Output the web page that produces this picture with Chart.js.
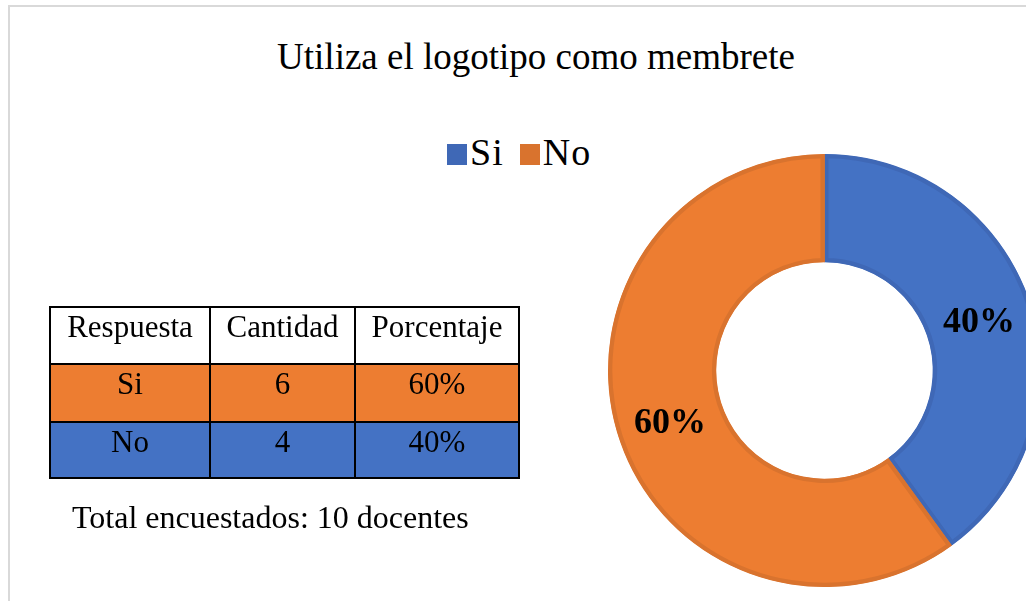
<!DOCTYPE html>
<html>
<head>
<meta charset="utf-8">
<script src="https://cdn.jsdelivr.net/npm/chart.js@4.4.1/dist/chart.umd.min.js"></script>
<style>
  html, body { margin: 0; padding: 0; background: #fff; }
  body { width: 1026px; height: 601px; overflow: hidden; position: relative;
         font-family: "Liberation Serif", "Times New Roman", serif; color: #000; }
  .marco { position: absolute; left: 8px; top: 5px; width: 1100px; height: 700px;
           border: 2px solid #d9d9d9; }
  .titulo { position: absolute; left: 536px; top: 38px; transform: translateX(-50%);
            font-size: 37px; line-height: 1; white-space: nowrap; }
  .leyenda { position: absolute; left: 447px; top: 133px; font-size: 38px; line-height: 1;
             white-space: nowrap; display: flex; align-items: baseline; }
  .leyenda span.caja { display: inline-block; width: 20px; height: 21px; margin-right: 3px; }
  .leyenda span.txt { margin-right: 16px; letter-spacing: 1px; }
  .lienzo { position: absolute; left: 0; top: 0; width: 1026px; height: 601px; overflow: hidden; }
  table { position: absolute; left: 49px; top: 306px; border-collapse: collapse; font-size: 31px; }
  td { border: 2px solid #000; text-align: center; vertical-align: top; line-height: 1;
       padding: 3px 0 0 0; }
  .total { position: absolute; left: 72px; top: 501px; font-size: 32px; line-height: 1; white-space: nowrap; }
</style>
</head>
<body>
<div class="marco"></div>
<div class="titulo">Utiliza el logotipo como membrete</div>
<div class="leyenda" id="leyenda"></div>
<div class="lienzo"><canvas id="grafico" width="1042" height="601"></canvas></div>
<table id="tabla"></table>
<div class="total" id="total"></div>
<script>
// datos del grafico
const categorias = ['Si', 'No'];
const porcentajes = [40, 60];
const colores = ['#4472C4', '#ED7D31'];
const bordes = ['#3F68B6', '#D9732E'];

// datos de la tabla
const encabezados = ['Respuesta', 'Cantidad', 'Porcentaje'];
const respuestas = ['Si', 'No'];
const cantidades = [6, 4];
const porcentajesTabla = ['60%', '40%'];
const coloresFilas = ['#ED7D31', '#4472C4'];
const totalEncuestados = 10;

// etiquetas de porcentaje sobre cada segmento
const etiquetasArco = {
    id: 'etiquetasArco',
    afterDatasetsDraw(chart) {
        const ctx = chart.ctx;
        const meta = chart.getDatasetMeta(0);
        ctx.save();
        ctx.font = 'bold 36px "Liberation Serif"';
        ctx.fillStyle = '#000';
        ctx.textAlign = 'center';
        ctx.textBaseline = 'alphabetic';
        meta.data.forEach((arc, i) => {
            const pos = arc.tooltipPosition();
            ctx.fillText(porcentajes[i] + '%', pos.x, pos.y + 12);
        });
        ctx.restore();
    }
};

const ctx = document.getElementById('grafico').getContext('2d');
new Chart(ctx, {
    type: 'doughnut',
    data: {
        labels: categorias,
        datasets: [{
            data: porcentajes,
            backgroundColor: colores,
            borderColor: bordes,
            borderWidth: 4,
            borderAlign: 'inner',
            hoverOffset: 0,
        }],
    },
    options: {
        responsive: false,
        animation: false,
        events: [],
        cutout: '50%',
        layout: {
            padding: { left: 608, right: 1, top: 154, bottom: 14 },
        },
        plugins: {
            legend: { display: false },
            tooltip: { enabled: false },
            title: { display: false },
        },
    },
    plugins: [etiquetasArco],
});

// leyenda html
const leyenda = document.getElementById('leyenda');
categorias.forEach((c, i) => {
    const caja = document.createElement('span');
    caja.className = 'caja';
    caja.style.background = bordes[i];
    const txt = document.createElement('span');
    txt.className = 'txt';
    txt.textContent = c;
    leyenda.appendChild(caja);
    leyenda.appendChild(txt);
});

// tabla
const tabla = document.getElementById('tabla');
const anchos = [158, 143, 162];
const altos = [52, 53, 51];
let fila = tabla.insertRow();
encabezados.forEach((h, j) => {
    const td = fila.insertCell();
    td.textContent = h;
    td.style.width = anchos[j] + 'px';
    td.style.height = altos[0] + 'px';
});
respuestas.forEach((r, i) => {
    fila = tabla.insertRow();
    fila.style.background = coloresFilas[i];
    [r, cantidades[i], porcentajesTabla[i]].forEach(v => {
        const td = fila.insertCell();
        td.textContent = v;
        td.style.height = altos[i + 1] + 'px';
    });
});
document.getElementById('total').textContent = 'Total encuestados: ' + totalEncuestados + ' docentes';
</script>
</body>
</html>
